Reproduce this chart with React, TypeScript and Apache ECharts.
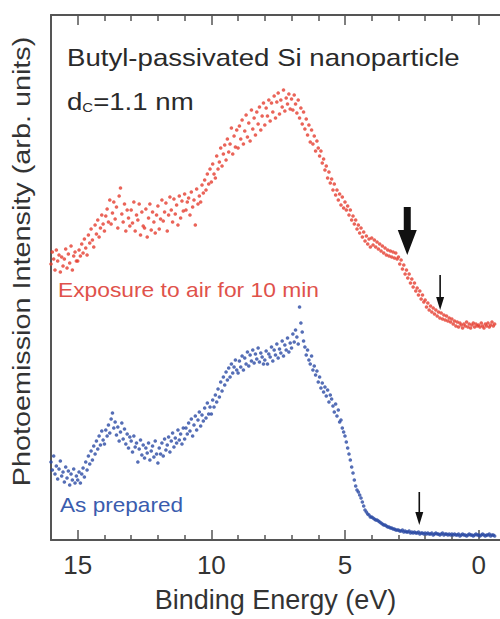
import React, { useEffect, useRef } from "react";
import * as echarts from "echarts";

// Sampling grid of the spectra (binding energy, eV), from 16.0 eV downwards
const ENERGY_START = 16.0;
const ENERGY_STEP = 0.05;

// Exposure to air for 10 min (red), arbitrary units, one value per energy step
const exposedIntensity = [
  276, 288, 281, 270, 290, 279, 285, 268, 283, 274, 281, 291, 272, 286, 277, 294, 270, 284, 288, 279,
  279, 290, 284, 296, 287, 301, 292, 285, 305, 297, 311, 300, 293, 315, 306, 320, 303, 312, 325, 316,
  309, 324, 331, 318, 340, 316, 327, 338, 321, 333, 312, 344, 352, 326, 318, 336, 309, 330, 322, 314,
  330, 317, 338, 309, 325, 320, 336, 305, 328, 314, 312, 331, 303, 322, 336, 310, 328, 318, 307, 325,
  334, 311, 321, 340, 319, 328, 337, 309, 325, 343, 330, 318, 341, 326, 335, 315, 344, 322, 339, 329,
  346, 330, 338, 342, 325, 348, 333, 340, 315, 351, 336, 344, 338, 355, 347, 360, 350, 366, 356, 371,
  358, 376, 366, 362, 384, 371, 378, 392, 374, 386, 395, 380, 401, 388, 396, 412, 386, 404, 393, 410,
  392, 414, 401, 420, 396, 409, 425, 403, 417, 399, 430, 411, 422, 405, 428, 416, 433, 410, 424, 437,
  415, 432, 424, 440, 419, 437, 428, 444, 422, 438, 447, 426, 440, 433, 450, 429, 442, 436, 446, 431,
  441, 430, 445, 436, 427, 440, 422, 432, 416, 428, 411, 421, 405, 415, 398, 410, 396, 404, 389, 399,
  392, 384, 389, 377, 381, 370, 374, 362, 368, 357, 361, 350, 356, 345, 350, 340, 346, 335, 343, 332,
  338, 330, 334, 325, 330, 320, 324, 316, 320, 311, 315, 307, 312, 303, 308, 299, 304, 296, 301, 293,
  302, 295, 300, 293, 298, 291, 296, 289, 294, 287, 292, 285, 290, 284, 289, 283, 288, 282, 287, 281,
  283, 276, 280, 271, 275, 266, 270, 262, 266, 257, 261, 253, 257, 249, 252, 245, 249, 241, 245, 238,
  240, 233, 237, 230, 234, 228, 232, 226, 230, 224, 228, 222, 227, 221, 225, 220, 224, 219, 222, 218,
  221, 216, 219, 214, 218, 213, 217, 215, 212, 216, 214, 218, 213, 216, 212, 215, 217, 213, 216, 214,
  215, 213, 217, 214, 212, 216, 214, 217, 213, 215, 218, 214, 216,
];

// As prepared (blue), arbitrary units, one value per energy step
const preparedIntensity = [
  78, 70, 84, 66, 74, 61, 71, 79, 64, 68, 58, 73, 62, 69, 55, 66, 60, 71, 57, 64,
  60, 68, 57, 66, 72, 63, 78, 70, 84, 76, 89, 80, 94, 86, 99, 91, 104, 95, 109, 100,
  96, 110, 104, 115, 107, 121, 127, 112, 118, 105, 113, 99, 108, 117, 101, 111, 96, 106, 92, 103,
  99, 88, 104, 93, 97, 78, 91, 100, 85, 95, 82, 92, 87, 97, 80, 89, 94, 83, 99, 86,
  77, 92, 86, 97, 84, 101, 90, 95, 103, 88, 99, 107, 93, 102, 97, 110, 100, 106, 96, 112,
  101, 112, 106, 117, 109, 121, 104, 115, 124, 110, 120, 128, 114, 125, 119, 132, 122, 137, 126, 133,
  126, 140, 133, 145, 138, 151, 143, 158, 149, 163, 155, 168, 160, 172, 163, 176, 167, 173, 180, 170,
  167, 179, 173, 184, 170, 182, 176, 188, 174, 185, 179, 190, 177, 186, 181, 192, 178, 187, 183, 176,
  180, 189, 176, 186, 183, 193, 179, 190, 185, 196, 182, 191, 187, 199, 184, 195, 190, 202, 188, 197,
  192, 206, 198, 210, 203, 196, 233, 217, 208, 199, 193, 185, 190, 180, 176, 184, 170, 174, 165, 169,
  158, 163, 152, 157, 148, 153, 144, 150, 138, 145, 141, 134, 128, 136, 124, 130, 118, 120, 112, 108,
  104, 98, 92, 86, 80, 73, 67, 60, 54, 50, 48, 45, 42, 38, 34, 30, 28, 26, 25, 23,
  23, 22, 21, 20, 20, 19, 18, 17, 16, 15, 15, 14, 13, 13, 12, 12, 11, 11, 10, 10,
  10, 9, 9, 10, 8, 9, 8, 8, 9, 7, 8, 7, 8, 7, 7, 8, 6, 7, 7, 6,
  7, 6, 7, 6, 6, 7, 5, 6, 7, 6, 6, 5, 6, 7, 5, 6, 6, 5, 6, 5,
  6, 5, 6, 5, 5, 6, 4, 5, 6, 5, 5, 4, 5, 6, 5, 5, 4, 5, 6, 5,
  5, 4, 5, 6, 5, 4, 5, 5, 6, 4, 5, 5, 4,
];

const majorTicks = [0, 5, 10, 15];
const minorTicks = [1, 2, 3, 4, 6, 7, 8, 9, 11, 12, 13, 14];

const titleText = "Butyl-passivated Si nanoparticle";
const sizeLabel = ["d", "C", "=1.1 nm"];
const exposedLabel = "Exposure to air for 10 min";
const preparedLabel = "As prepared";
const xName = "Binding Energy (eV)";
const yName = "Photoemission Intensity (arb. units)";

// Annotation arrows: energy (eV), tail and tip intensity, heavy or thin
const arrowEnergies = [2.67, 1.44, 2.22];
const arrowTails = [333, 265, 48];
const arrowTips = [285, 230, 15];
const arrowHeavy = [true, false, false];

const FONT = "'Liberation Sans', Arial, Helvetica, sans-serif";
const RED = "#e53d2f";
const BLUE = "#2b4aa4";
const AXIS = "#555";

function toPairs(vals: number[]) {
  return vals.map((v, i) => [+(ENERGY_START - i * ENERGY_STEP).toFixed(2), v]);
}

function App() {
  const ref = useRef<HTMLDivElement>(null);
  useEffect(() => {
    if (!ref.current) return;
    const chart = echarts.init(ref.current, null, { renderer: "svg" });
    const xBase = {
      type: "value",
      inverse: true,
      min: -0.8,
      max: 16,
      splitLine: { show: false },
    };
    const option: any = {
      animation: false,
      backgroundColor: "#fff",
      grid: { left: 51, top: 15, width: 453.6, height: 525 },
      xAxis: [
        {
          ...xBase,
          position: "bottom",
          axisLine: { show: true, onZero: false, lineStyle: { color: AXIS, width: 2 } },
          axisTick: { show: true, inside: true, length: 10, customValues: majorTicks, lineStyle: { color: AXIS, width: 1.5 } },
          axisLabel: { show: true, customValues: majorTicks, fontSize: 26, color: "#333", margin: 12, fontFamily: FONT },
          name: xName,
          nameLocation: "middle",
          nameGap: 46,
          nameTextStyle: { fontSize: 27, color: "#333", fontFamily: FONT },
        },
        {
          ...xBase,
          position: "bottom",
          axisLine: { show: false, onZero: false },
          axisTick: { show: true, inside: true, length: 5, customValues: minorTicks, lineStyle: { color: AXIS, width: 1.5 } },
          axisLabel: { show: false },
        },
        {
          ...xBase,
          position: "top",
          axisLine: { show: true, onZero: false, lineStyle: { color: AXIS, width: 2 } },
          axisTick: { show: true, inside: true, length: 10, customValues: majorTicks, lineStyle: { color: AXIS, width: 1.5 } },
          axisLabel: { show: false },
        },
        {
          ...xBase,
          position: "top",
          axisLine: { show: false, onZero: false },
          axisTick: { show: true, inside: true, length: 6, customValues: minorTicks, lineStyle: { color: AXIS, width: 1.5 } },
          axisLabel: { show: false },
        },
      ],
      yAxis: {
        type: "value",
        min: 0,
        max: 525,
        axisLine: { show: true, onZero: false, lineStyle: { color: AXIS, width: 2 } },
        axisTick: { show: false },
        axisLabel: { show: false },
        splitLine: { show: false },
      },
      series: [
        {
          type: "scatter",
          name: exposedLabel,
          data: toPairs(exposedIntensity),
          symbolSize: 3.6,
          itemStyle: { color: RED },
          xAxisIndex: 0,
        },
        {
          type: "scatter",
          name: preparedLabel,
          data: toPairs(preparedIntensity),
          symbolSize: 3.6,
          itemStyle: { color: BLUE },
          xAxisIndex: 0,
        },
      ],
    };
    chart.setOption(option);

    const graphics: any[] = [
      {
        type: "text",
        x: 67,
        y: 58,
        scaleX: 1.15,
        style: { text: titleText, fontSize: 24, fontFamily: FONT, fill: "#2a2a2a", verticalAlign: "middle", align: "left" },
      },
      {
        type: "text",
        x: 67,
        y: 102,
        scaleX: 1.15,
        style: {
          text: `{d|${sizeLabel[0]}}{c|${sizeLabel[1]}}{d|${sizeLabel[2]}}`,
          fontFamily: FONT,
          fill: "#2a2a2a",
          verticalAlign: "middle",
          align: "left",
          rich: {
            d: { fontSize: 24, fontFamily: FONT, fill: "#2a2a2a", verticalAlign: "bottom" },
            c: { fontSize: 13, fontFamily: FONT, fill: "#2a2a2a", verticalAlign: "bottom" },
          },
        },
      },
      {
        type: "text",
        x: 58,
        y: 290,
        scaleX: 1.14,
        style: { text: exposedLabel, fontSize: 20, fontFamily: FONT, fill: "#e0524b", verticalAlign: "middle", align: "left" },
      },
      {
        type: "text",
        x: 60,
        y: 505.5,
        scaleX: 1.13,
        style: { text: preparedLabel, fontSize: 20, fontFamily: FONT, fill: "#3a5cae", verticalAlign: "middle", align: "left" },
      },
      {
        type: "text",
        x: 22,
        y: 261.5,
        rotation: Math.PI / 2,
        scaleX: 1.2,
        style: { text: yName, fontSize: 24, fontFamily: FONT, fill: "#333", verticalAlign: "middle", align: "center" },
      },
    ];

    arrowEnergies.forEach((e, i) => {
      const tail = chart.convertToPixel({ gridIndex: 0 }, [e, arrowTails[i]]) as number[];
      const tip = chart.convertToPixel({ gridIndex: 0 }, [e, arrowTips[i]]) as number[];
      const heavy = arrowHeavy[i];
      const sw = heavy ? 7 : 1.6;
      const hw = heavy ? 19 : 8;
      const hl = heavy ? 25 : 13;
      const cx = tail[0];
      const y0 = tail[1];
      const y1 = tip[1];
      graphics.push({
        type: "polygon",
        shape: {
          points: [
            [cx - sw / 2, y0],
            [cx + sw / 2, y0],
            [cx + sw / 2, y1 - hl],
            [cx + hw / 2, y1 - hl],
            [cx, y1],
            [cx - hw / 2, y1 - hl],
            [cx - sw / 2, y1 - hl],
          ],
        },
        style: { fill: "#111" },
      });
    });

    chart.setOption({ graphic: graphics });
    return () => chart.dispose();
  }, []);
  return <div ref={ref} style={{ position: "fixed", left: 0, top: 0, width: 500, height: 619 }} />;
}

export default App;
